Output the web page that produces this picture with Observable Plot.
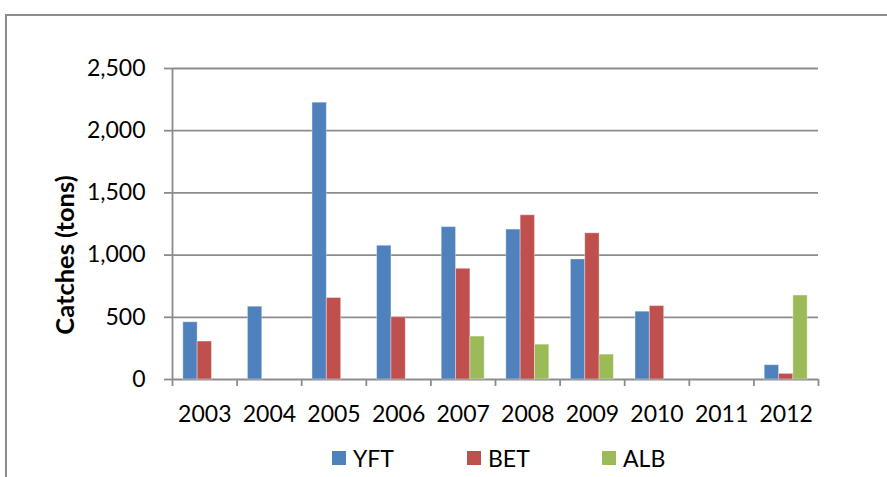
<!DOCTYPE html>
<html>
<head>
<meta charset="utf-8">
<script src="https://cdn.jsdelivr.net/npm/d3@7"></script>
<script src="https://cdn.jsdelivr.net/npm/@observablehq/plot@0.6"></script>
<style>
  html, body { margin: 0; padding: 0; background: #fff; overflow: hidden; }
  #wrap { position: relative; width: 887px; height: 477px; font-family: Lato, "Open Sans", sans-serif; }
  #frame { position: absolute; left: 5px; top: 14px; width: 1000px; height: 600px; border: 2px solid #8c8c8c; box-sizing: border-box; }
  #chart { position: absolute; left: 0; top: 0; }
  #legend { position: absolute; left: 332px; top: 444px; display: flex; font-size: 23px; color: #000; }
  .item { display: flex; align-items: center; }
  .sw { width: 14px; height: 14px; margin-right: 7px; }
</style>
</head>
<body>
<div id="wrap">
  <div id="frame"></div>
  <div id="chart"></div>
  <div id="legend"></div>
</div>
<script>
const years = ["2003", "2004", "2005", "2006", "2007", "2008", "2009", "2010", "2011", "2012"];
const seriesNames = ["YFT", "BET", "ALB"];
const seriesColors = ["#4F81BD", "#C0504D", "#9BBB59"];
const yftValues = [460, 585, 2225, 1075, 1225, 1205, 965, 545, 0, 115];
const betValues = [305, 0, 655, 500, 890, 1320, 1175, 590, 0, 45];
const albValues = [0, 0, 0, 0, 345, 280, 200, 0, 0, 675];
const yTicks = [0, 500, 1000, 1500, 2000, 2500];
const yTitle = "Catches (tons)";

const valuesBySeries = [yftValues, betValues, albValues];
const rows = [];
years.forEach((year, i) => {
  seriesNames.forEach((s, j) => {
    const v = valuesBySeries[j][i];
    if (v > 0) rows.push({year, i, series: s, j, value: v});
  });
});

// group layout in band units
const pad = 0.1675, w = 0.2217;
const fontFamily = "Lato, 'Open Sans', sans-serif";
const gridColor = "#8c8c8c";

const plot = Plot.plot({
  width: 887,
  height: 440,
  marginLeft: 172,
  marginRight: 69,
  marginTop: 68,
  marginBottom: 61,
  style: {fontFamily, fontSize: "23px", color: "#000", background: "transparent", overflow: "visible"},
  x: {type: "linear", domain: [0, years.length], axis: null},
  y: {domain: [0, 2500], axis: null},
  color: {domain: seriesNames, range: seriesColors},
  marks: [
    Plot.ruleY(yTicks, {stroke: gridColor, strokeWidth: 1.8}),
    Plot.axisY({ticks: yTicks, tickSize: 8, tickPadding: 19, tickFormat: d3.format(","), stroke: gridColor, strokeWidth: 1.8, strokeOpacity: 1, label: null, fontSize: 23}),
    Plot.rectY(rows, {
      x1: d => d.i + pad + d.j * w,
      x2: d => d.i + pad + (d.j + 1) * w,
      y: "value",
      fill: "series",
      stroke: "#ffffff",
      strokeOpacity: 0.35,
      strokeWidth: 1
    }),
    Plot.ruleX([0], {y1: 0, y2: 2500, stroke: gridColor, strokeWidth: 1.8}),
    Plot.axisX({ticks: d3.range(0, years.length + 1), tickSize: 7, tickFormat: () => "", stroke: gridColor, strokeWidth: 1.8, strokeOpacity: 1, label: null}),
    Plot.axisX({ticks: years.map((_, i) => i + 0.5), tickSize: 0, tickPadding: 26, tickFormat: d => years[Math.floor(d)], label: null, fontSize: 23}),
    Plot.text([yTitle], {frameAnchor: "left", rotate: -90, dx: -107, dy: 31, fontWeight: "bold", fontSize: 25.5, textAnchor: "middle", lineAnchor: "middle", fill: "#000"})
  ]
});
document.getElementById("chart").appendChild(plot);

const legend = document.getElementById("legend");
seriesNames.forEach((s, k) => {
  const item = document.createElement("div");
  item.className = "item";
  item.style.width = "135px";
  const sw = document.createElement("span");
  sw.className = "sw";
  sw.style.background = seriesColors[k];
  const label = document.createElement("span");
  label.textContent = s;
  item.appendChild(sw);
  item.appendChild(label);
  legend.appendChild(item);
});
</script>
</body>
</html>
